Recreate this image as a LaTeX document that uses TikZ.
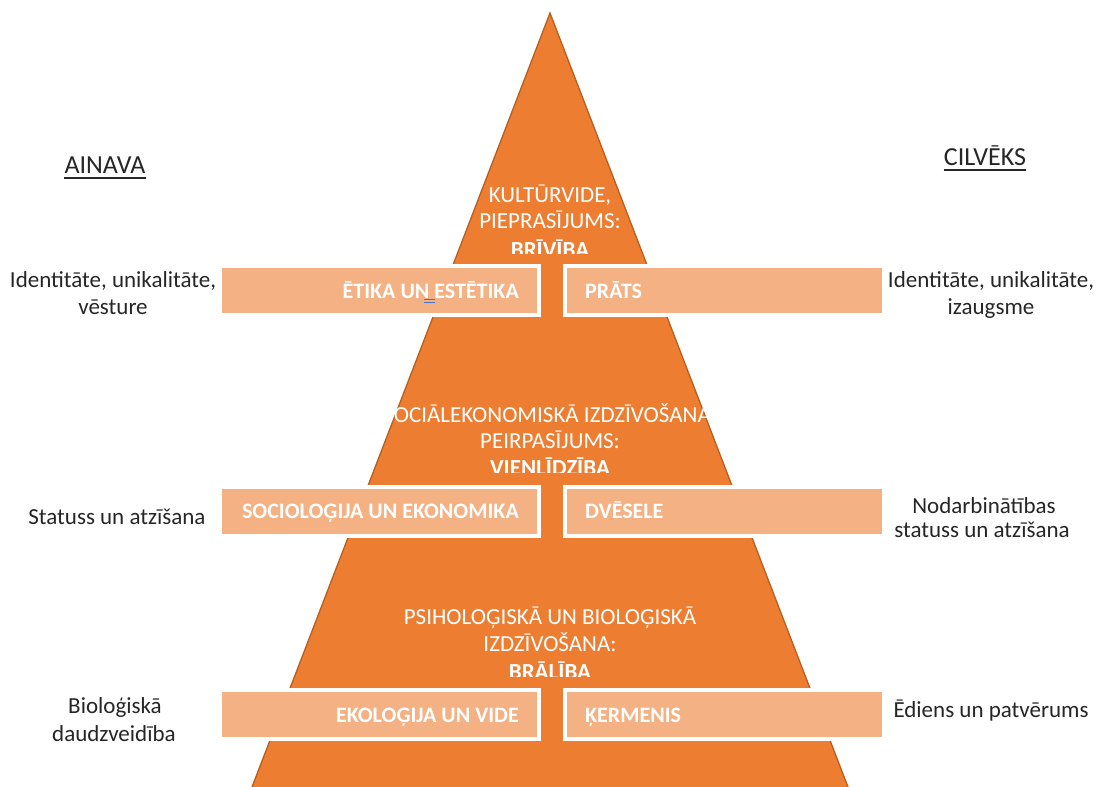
\documentclass[tikz,border=0pt]{standalone}
\usepackage{fontspec}
\setmainfont{Carlito}
\definecolor{tri}{HTML}{ED7D31}
\definecolor{triedge}{HTML}{B95F1E}
\definecolor{barfill}{HTML}{F4B183}
\definecolor{gram}{HTML}{4472C4}
\definecolor{txt}{HTML}{262626}
\begin{document}
\begin{tikzpicture}[x=1pt,y=-1pt,
  tier/.style={text=white, font=\fontsize{23}{26}\selectfont, inner sep=0, anchor=base},
  tierbold/.style={text=white, font=\bfseries\fontsize{23}{26}\selectfont, inner sep=0, anchor=base},
  barleft/.style={text=white, font=\bfseries\fontsize{22}{26}\selectfont, inner sep=0, anchor=base east},
  barright/.style={text=white, font=\bfseries\fontsize{22}{26}\selectfont, inner sep=0, anchor=base west},
  side/.style={text=txt, font=\fontsize{23}{26}\selectfont, inner sep=0, anchor=base},
  head/.style={text=txt, font=\fontsize{26}{30}\selectfont, inner sep=0, anchor=base},
  barbox/.style={fill=barfill, draw=white, line width=4pt},
  uline/.style={txt, line width=1.3pt}]
\useasboundingbox (0,0) rectangle (1098,787);
\clip (0,0) rectangle (1098,787);
\fill[white] (0,0) rectangle (1098,787);
% pyramid
\filldraw[fill=tri, draw=triedge, line width=1.3pt, line join=miter] (550,13) -- (853,800) -- (247,800) -- cycle;
% bars
\draw[barbox] (220,266) rectangle (539,315);
\draw[barbox] (565,266) rectangle (884,315);
\draw[barbox] (220,487) rectangle (539,536);
\draw[barbox] (565,487) rectangle (884,536);
\draw[barbox] (220,690) rectangle (539,739);
\draw[barbox] (565,690) rectangle (884,739);
% tier texts
\node[tier] (t1a) at (550,202) {KULTŪRVIDE,};
\node[tier] (t1b) at (550,228) {PIEPRASĪJUMS:};
\begin{scope}
\clip (420,230) rectangle (680,253);
\node[tierbold] (t1c) at (550,257) {BRĪVĪBA};
\end{scope}
\node[tier] (t2a) at (550,422) {SOCIĀLEKONOMISKĀ IZDZĪVOŠANA,};
\node[tier] (t2b) at (550,448) {PEIRPASĪJUMS:};
\begin{scope}
\clip (420,450) rectangle (680,472);
\node[tierbold] (t2c) at (550,475) {VIENLĪDZĪBA};
\end{scope}
\node[tier] (t3a) at (550,624) {PSIHOLOĢISKĀ UN BIOLOĢISKĀ};
\node[tier] (t3b) at (550,651) {IZDZĪVOŠANA:};
\begin{scope}
\clip (420,655) rectangle (680,676);
\node[tierbold] (t3c) at (550,679) {BRĀLĪBA};
\end{scope}
% bar texts
\node[barleft] (b1l) at (519,298) {ĒTIKA UN ESTĒTIKA};
\node[barright] (b1r) at (585,298) {PRĀTS};
\node[barleft] (b2l) at (519,518) {SOCIOLOĢIJA UN EKONOMIKA};
\node[barright] (b2r) at (585,518) {DVĒSELE};
\node[barleft] (b3l) at (519,722) {EKOLOĢIJA UN VIDE};
\node[barright] (b3r) at (585,722) {ĶERMENIS};
% grammar mark
\draw[gram, line width=1.2pt] (424,299.5) -- (435,299.5) (424,302.5) -- (435,302.5);
% headings
\node[head] (ainava) at (105,173) {AINAVA};
\draw[uline] ([yshift=-5pt]ainava.base west) -- ([yshift=-5pt]ainava.base east);
\node[head] (cilveks) at (985,165) {CILVĒKS};
\draw[uline] ([yshift=-5pt]cilveks.base west) -- ([yshift=-5pt]cilveks.base east);
% side labels
\node[side] (l1a) at (113,287) {Identitāte, unikalitāte,};
\node[side] (l1b) at (113,314) {vēsture};
\node[side] (r1a) at (991,287) {Identitāte, unikalitāte,};
\node[side] (r1b) at (991,314) {izaugsme};
\node[side] (l2) at (117,524) {Statuss un atzīšana};
\node[side] (r2a) at (984,513) {Nodarbinātības};
\node[side] (r2b) at (982,537) {statuss un atzīšana};
\node[side] (l3a) at (115,713) {Bioloģiskā};
\node[side] (l3b) at (114,741) {daudzveidība};
\node[side] (r3) at (991,717) {Ēdiens un patvērums};
\end{tikzpicture}
\end{document}
